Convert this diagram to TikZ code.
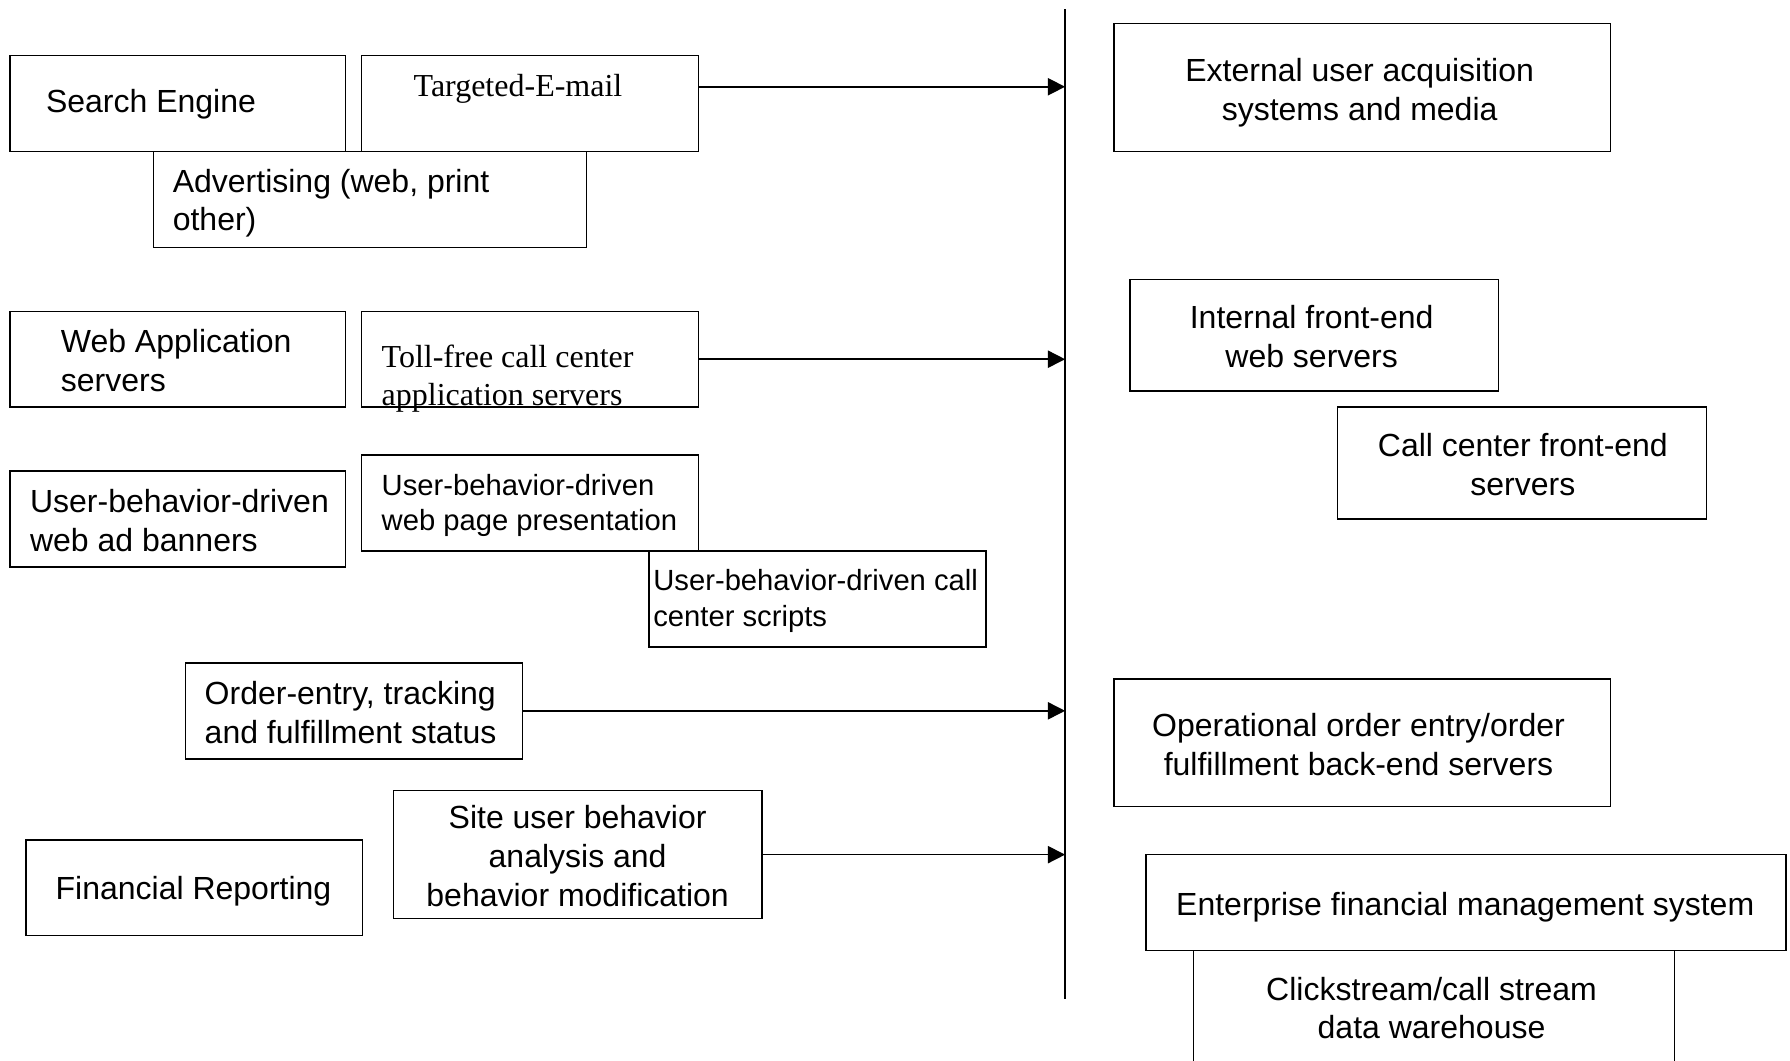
\documentclass[tikz,border=0pt]{standalone}
\usepackage{fontspec}
\setmainfont{Liberation Sans}
\newfontfamily\timesfam{Liberation Serif}
\usetikzlibrary{arrows.meta}
\tikzset{
  bx/.style={draw, line width=0.75pt, inner sep=0pt, anchor=north west},
  txt/.style={inner sep=0pt, font=\fontsize{16}{19.4}\selectfont},
  txtl/.style={txt, align=left, anchor=west},
  txtc/.style={txt, align=center, anchor=center},
  smalltxt/.style={font=\fontsize{14.6}{17.7}\selectfont},
  seriftxt/.style={font=\timesfam\fontsize{16}{18.8}\selectfont},
  vline/.style={line width=0.75pt},
  arr/.style={line width=0.75pt, -{Triangle[length=8.6pt,width=8.6pt]}},
}
\newcommand{\boxnode}[5]{\node[bx, minimum width={(#4-#2)*0.5708pt}, minimum height={(#5-#3)*0.5708pt}] (#1) at (#2,#3) {};}
\begin{document}
\begin{tikzpicture}[x=0.5708pt,y=-0.5708pt]
\useasboundingbox (0,0) rectangle (1568,929);
% boxes, left side
\boxnode{se}{8}{48}{302}{132}
\boxnode{te}{316}{48}{611}{132}
\boxnode{ad}{134}{132}{513}{216}
\boxnode{wa}{8}{272}{302}{356}
\boxnode{tf}{316}{272}{611}{356}
\boxnode{ub}{8}{412}{302}{496}
\boxnode{up}{316}{398}{611}{482}
\boxnode{uc}{568}{482}{863}{566}
\boxnode{oe}{162}{580}{457}{664}
\boxnode{fr}{22}{735}{317}{819}
\boxnode{su}{344}{692}{667}{804}
% boxes, right side
\boxnode{ex}{975}{20}{1410}{132}
\boxnode{in}{989}{244}{1312}{342}
\boxnode{cc}{1171}{356}{1494}{454}
\boxnode{op}{975}{594}{1410}{706}
\boxnode{en}{1003}{748}{1564}{832}
\boxnode{cs}{1045}{832}{1466}{960}
% texts
\node[txtl] (se-t) at (40,91) {Search Engine};
\node[txtl, seriftxt] (te-t) at (362,78) {Targeted-E-mail};
\node[txtl] (ad-t) at (151,178) {Advertising (web, print\\other)};
\node[txtl] (wa-t) at (53,316) {Web Application\\servers};
\node[txtl, seriftxt] (tf-t) at (334,331.5) {Toll-free call center\\application servers};
\node[txtl] (ub-t) at (26,456) {User-behavior-driven\\web ad banners};
\node[txtl, smalltxt] (up-t) at (334,442.5) {User-behavior-driven\\web page presentation};
\node[txtl, smalltxt] (uc-t) at (572,526.5) {User-behavior-driven call\\center scripts};
\node[txtl] (oe-t) at (179,624) {Order-entry, tracking\\and fulfillment status};
\node[txtc] (fr-t) at (169.5,781) {Financial Reporting};
\node[txtc] (su-t) at (506,750) {Site user behavior\\analysis and\\behavior modification};
\node[txtc] (ex-t) at (1191,81) {External user acquisition\\systems and media};
\node[txtc] (in-t) at (1149,295) {Internal front-end\\web servers};
\node[txtc] (cc-t) at (1334,407) {Call center front-end\\servers};
\node[txtc] (op-t) at (1190,652) {Operational order entry/order\\fulfillment back-end servers};
\node[txtc] (en-t) at (1283.5,795) {Enterprise financial management system};
\node[txtc] (cs-t) at (1254,883) {Clickstream/call stream\\data warehouse};
% vertical line and arrows
\coordinate (vt) at (933,8);
\coordinate (vb) at (933,875);
\draw[vline] (vt) -- (vb);
\coordinate (a1) at (933,76);
\draw[arr] (te.east |- a1) -- (a1);
\draw[arr] (tf.east) -- (tf.east -| vt);
\draw[arr] (oe.east) -- (oe.east -| vt);
\draw[arr] (su.east) -- (su.east -| vt);
\end{tikzpicture}
\end{document}
